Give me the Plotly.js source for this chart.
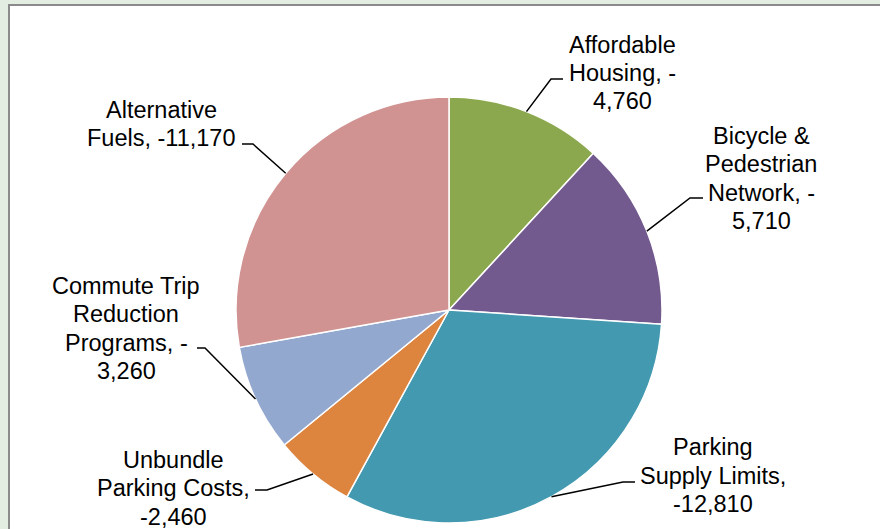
<!DOCTYPE html>
<html>
<head>
<meta charset="utf-8">
<script src="https://cdn.plot.ly/plotly-3.0.1.min.js"></script>
<style>html,body{margin:0;padding:0;background:#e3ede2;}#chart{width:880px;height:529px;}</style>
</head>
<body>
<div id="chart"></div>
<script>
// ---- data ----
const categories = ["Affordable Housing", "Bicycle & Pedestrian Network", "Parking Supply Limits",
                    "Unbundle Parking Costs", "Commute Trip Reduction Programs", "Alternative Fuels"];
const values = [-4760, -5710, -12810, -2460, -3260, -11170];
const labelTexts = [
  ["Affordable", "Housing, -", "4,760"],
  ["Bicycle &", "Pedestrian", "Network, -", "5,710"],
  ["Parking", "Supply Limits,", "-12,810"],
  ["Unbundle", "Parking Costs,", "-2,460"],
  ["Commute Trip", "Reduction", "Programs, -", "3,260"],
  ["Alternative", "Fuels, -11,170"]
];
const colors = ["#8ca84e", "#725a8f", "#4399b0", "#dd843f", "#93a8cf", "#d19392"];

// ---- layout constants (pixels) ----
const W = 880, H = 529;
const cx = 449, cy = 310, R = 213;
const lineGap = 28.5;
// label centres and leader elbow points [elbowX, elbowY, endX]
const labelPos = [[622, 73], [761, 178.5], [713, 475.5], [173, 488], [126, 328.5], [161, 124]];
const elbows = [[551, 79, 563], [690, 198, 703], [623, 482, 635], [267, 490, 255], [205, 348, 197], [253, 144, 242]];

const px = x => x / W;
const py = y => 1 - y / H;

const sizes = values.map(v => Math.abs(v));
const total = sizes.reduce((a, b) => a + b, 0);
let cum = 0;
const mids = sizes.map(s => { const m = (cum + s / 2) / total * 2 * Math.PI; cum += s; return m; });

const shapes = [{
  type: 'rect', xref: 'paper', yref: 'paper', layer: 'below',
  x0: px(9), x1: 1.02, y0: -0.02, y1: py(5),
  fillcolor: '#ffffff', line: {color: '#8a8a8a', width: 2}
}];
const annotations = [];
mids.forEach((m, i) => {
  const ex = cx + R * Math.sin(m), ey = cy - R * Math.cos(m);
  const [bx, by, tx] = elbows[i];
  shapes.push({
    type: 'path', xref: 'paper', yref: 'paper',
    path: `M ${px(ex)},${py(ey)} L ${px(bx)},${py(by)} L ${px(tx)},${py(by)}`,
    line: {color: '#000000', width: 1.5}
  });
  const lines = labelTexts[i];
  const n = lines.length;
  lines.forEach((t, k) => {
    const yy = labelPos[i][1] + (k - (n - 1) / 2) * lineGap;
    annotations.push({
      xref: 'paper', yref: 'paper', x: px(labelPos[i][0]), y: py(yy),
      xanchor: 'center', yanchor: 'middle', align: 'center', showarrow: false,
      text: t,
      font: {family: 'Liberation Sans, Arial, sans-serif', size: 23.5, color: '#000000'}
    });
  });
});

const trace = {
  type: 'pie',
  labels: categories,
  values: sizes,
  sort: false,
  direction: 'clockwise',
  rotation: 0,
  textinfo: 'none',
  hoverinfo: 'skip',
  marker: {colors: colors, line: {color: '#ffffff', width: 1.5}},
  domain: {x: [px(cx - R), px(cx + R)], y: [py(cy + R), py(cy - R)]},
  showlegend: false
};

Plotly.newPlot('chart', [trace], {
  width: W, height: H,
  margin: {l: 0, r: 0, t: 0, b: 0},
  paper_bgcolor: '#e3ede2',
  showlegend: false,
  shapes: shapes,
  annotations: annotations
}, {displayModeBar: false, staticPlot: true});
</script>
</body>
</html>
